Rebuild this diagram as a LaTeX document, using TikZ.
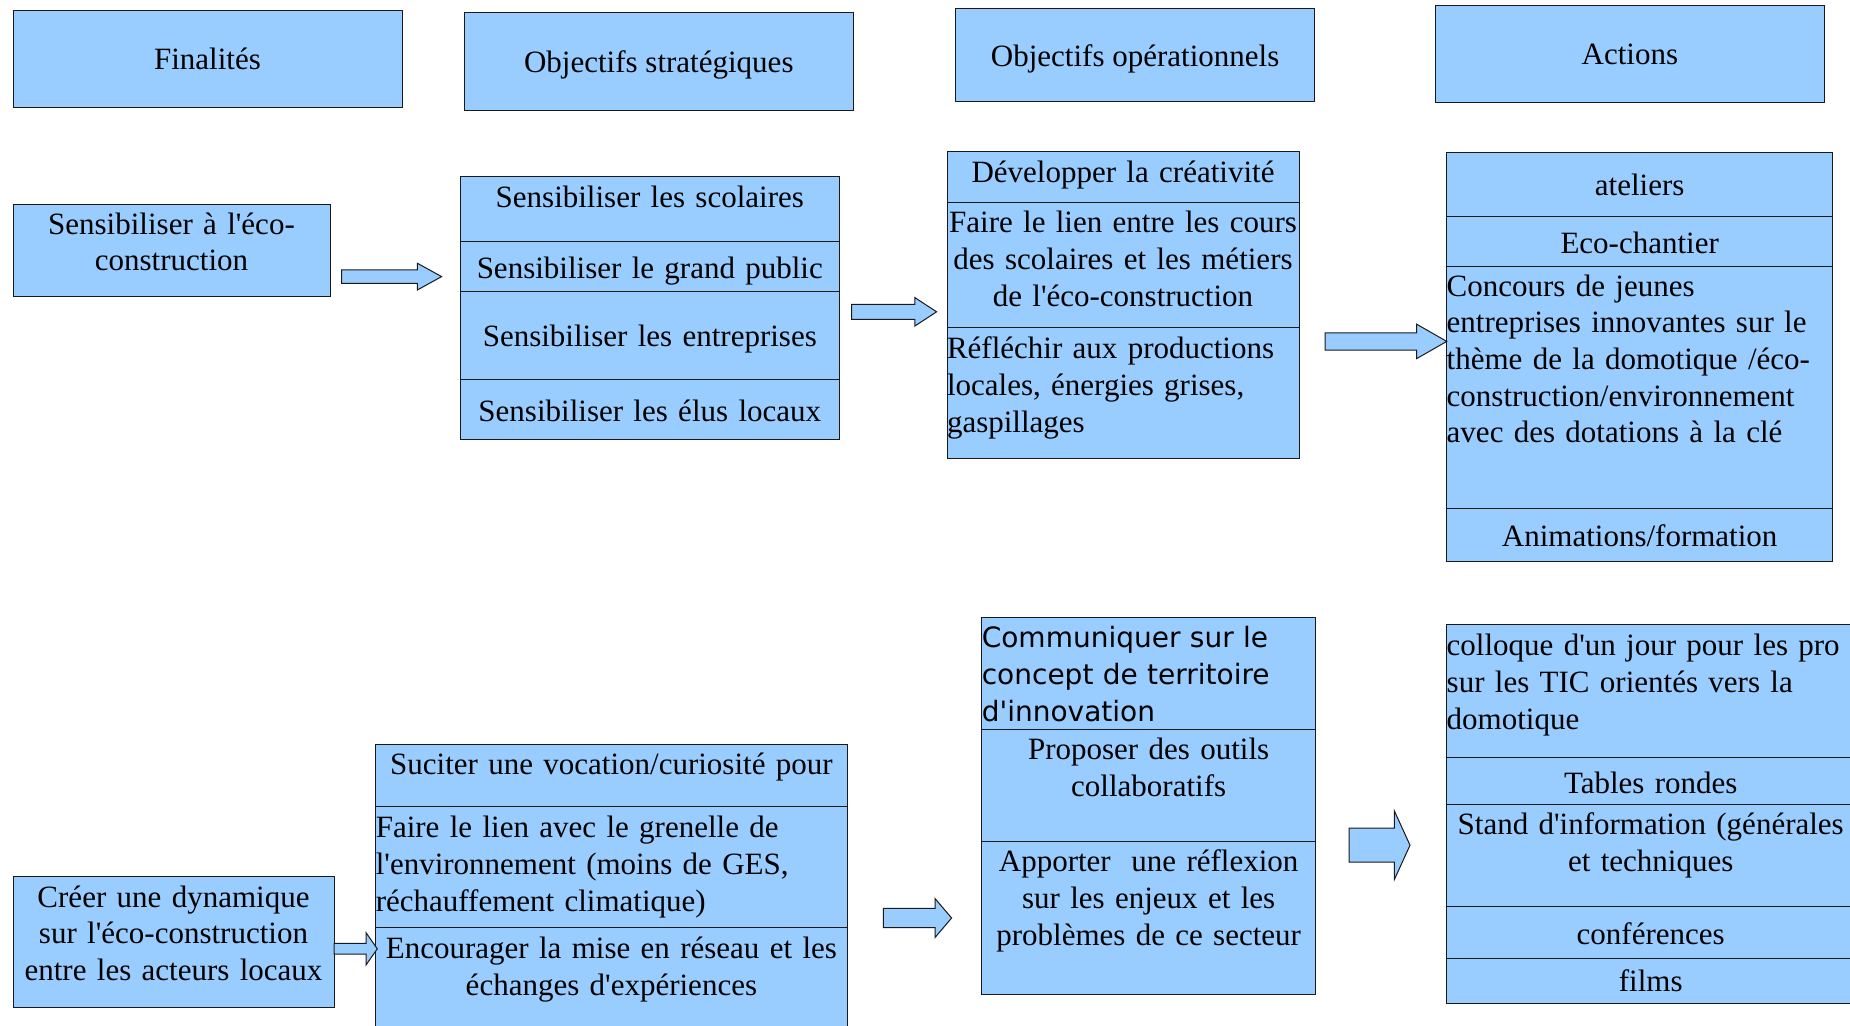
\documentclass[tikz,border=0pt]{standalone}
\usepackage{fontspec}
\newfontfamily\serif{Liberation Serif}
\newfontfamily\sansdv{DejaVu Sans}
\usetikzlibrary{positioning,calc}
\definecolor{bleu}{HTML}{99CCFF}
\definecolor{trait}{HTML}{1A1A1A}
\newcommand\texte{\serif\fontsize{15.5}{18.35}\selectfont}
\newcommand\textedv{\sansdv\fontsize{14}{18.35}\selectfont}
\tikzset{
  case/.style={draw=trait, fill=bleu, line width=0.5pt, inner xsep=0pt, inner ysep=0pt, outer sep=0pt, text width=#1, align=center, font=\texte},
  haut/.code 2 args={\pgfmathsetmacro\prof{#1-#2}\pgfkeysalso{/tikz/minimum height=#1pt, /tikz/text height=#2pt, /tikz/text depth=\prof pt}},
  titre/.style={draw=trait, fill=bleu, line width=0.5pt, inner sep=0pt, outer sep=0pt, anchor=north west, font=\texte, text height=13pt, text depth=2pt},
  fleche/.style={draw=trait, fill=bleu, line width=0.5pt},
}
% grosse fleche : depart, pointe, demi-corps, demi-tete, longueur tete
\newcommand\grossefleche[5]{%
\draw[fleche] let \p1=(#1), \p2=(#2) in (\x1,\y1+#3pt) -- (\x2-#5pt,\y1+#3pt) -- (\x2-#5pt,\y1+#4pt) -- (\x2,\y1) -- (\x2-#5pt,\y1-#4pt) -- (\x2-#5pt,\y1-#3pt) -- (\x1,\y1-#3pt) -- cycle;}
\begin{document}
\begin{tikzpicture}[x=1pt, y=-1pt]
\useasboundingbox (0,0) rectangle (925,512.5);
\node[titre, minimum width=194.5pt, minimum height=48.5pt](H1)at(6.5,5){Finalités};
\node[titre, minimum width=194.8pt, minimum height=48.7pt](H2)at(232,6.3){Objectifs stratégiques};
\node[titre, minimum width=179.3pt, minimum height=46.7pt](H3)at(477.9,4.2){Objectifs opérationnels};
\node[titre, minimum width=194.7pt, minimum height=48.8pt](H4)at(717.6,2.5){Actions};
%
\node[case=158.5pt, haut={46}{15}, anchor=north west](F1)at(6.5,102){Sensibiliser à l'éco-\\construction};
%
\node[case=189.2pt, haut={32.85}{15.6}, anchor=north west](S1)at(230.3,88){Sensibiliser les scolaires};
\node[case=189.2pt, haut={25}{18.6}, below](S2)at(S1.south){Sensibiliser le grand public};
\node[case=189.2pt, haut={43.65}{27.2}, below](S3)at(S2.south){Sensibiliser les entreprises};
\node[case=189.2pt, haut={30}{21}, below](S4)at(S3.south){Sensibiliser les élus locaux};
%
\node[case=176pt, haut={25.15}{15.4}, anchor=north west](O1)at(473.5,75.85){Développer la créativité};
\node[case=176pt, haut={62.85}{15.3}, below](O2)at(O1.south){Faire le lien entre les cours\\des scolaires et les métiers\\de l'éco-construction};
\node[case=176pt, haut={65.15}{15.5}, below, align=left](O3)at(O2.south){Réfléchir aux productions\\locales, énergies grises,\\gaspillages};
%
\node[case=192.95pt, haut={31.65}{21.4}, anchor=north west](T1)at(723.35,76.35){ateliers};
\node[case=192.95pt, haut={25}{18.8}, below](T2)at(T1.south){Eco-chantier};
\node[case=192.95pt, haut={121}{15}, below, align=left](T3)at(T2.south){Concours de jeunes\\entreprises innovantes sur le\\thème de la domotique /éco-\\construction/environnement\\avec des dotations à la clé};
\node[case=192.95pt, haut={26.5}{19}, below](T4)at(T3.south){Animations/formation};
%
\node[case=160.5pt, haut={65.15}{15.2}, anchor=north west](F2)at(6.5,438.35){Créer une dynamique\\sur l'éco-construction\\entre les acteurs locaux};
%
\node[case=235.6pt, haut={31.35}{15}, anchor=north west](U1)at(187.9,372){Suciter une vocation/curiosité pour};
\node[case=235.6pt, haut={60.5}{15.5}, below, align=left](U2)at(U1.south){Faire le lien avec le grenelle de\\l'environnement (moins de GES,\\réchauffement climatique)};
\node[case=235.6pt, haut={70}{15.5}, below](U3)at(U2.south){Encourager la mise en réseau et les\\échanges d'expériences};
%
\node[case=166.85pt, haut={56}{15.2}, anchor=north west, align=left, font=\textedv](V1)at(490.9,308.65){Communiquer sur le\\concept de territoire\\d'innovation};
\node[case=166.85pt, haut={56.2}{15.3}, below](V2)at(V1.south){Proposer des outils\\collaboratifs};
\node[case=166.85pt, haut={76.3}{15.1}, below](V3)at(V2.south){Apporter~~une réflexion\\sur les enjeux et les\\problèmes de ce secteur};
%
\node[case=204pt, haut={66.65}{15.8}, anchor=north west, align=left](W1)at(723.35,312){colloque d'un jour pour les pro\\sur les TIC orientés vers la\\domotique};
\node[case=204pt, haut={23.5}{18.2}, below](W2)at(W1.south){Tables rondes};
\node[case=204pt, haut={50.85}{15.3}, below](W3)at(W2.south){Stand d'information (générales\\et techniques};
\node[case=204pt, haut={26.15}{19}, below](W4)at(W3.south){conférences};
\node[case=204pt, haut={22.5}{16.8}, below](W5)at(W4.south){films};
%
\coordinate(a1)at(170.8,138.3); \coordinate(b1)at(220.8,138.3);
\coordinate(a2)at(425.8,155.9); \coordinate(b2)at(468.3,155.9);
\coordinate(a3)at(662.5,170.7); \coordinate(b3)at(T3.west|-a3);
\coordinate(a4)at(F2.east|-0,474.4); \coordinate(b4)at(188.65,474.4);
\coordinate(a5)at(441.7,459); \coordinate(b5)at(475.8,459);
\coordinate(a6)at(674.5,422.6); \coordinate(b6)at(705,422.6);
\grossefleche{a1}{b1}{3.33}{6.67}{12.1}
\grossefleche{a2}{b2}{3.75}{7.1}{10.85}
\grossefleche{a3}{b3}{4.33}{8.6}{15}
\grossefleche{a4}{b4}{2.67}{8.1}{5.65}
\grossefleche{a5}{b5}{4.85}{9.75}{8.3}
\grossefleche{a6}{b6}{8.5}{17.1}{7.8}
\end{tikzpicture}
\end{document}
